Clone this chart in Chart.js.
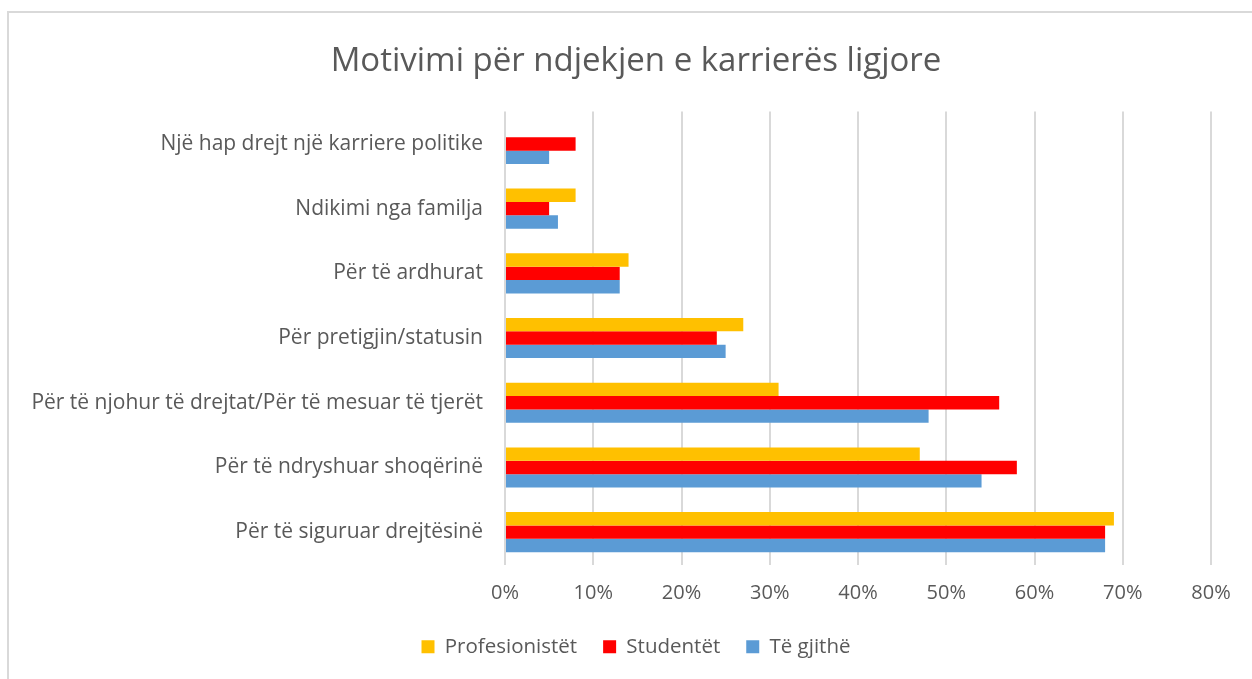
<!DOCTYPE html>
<html>
<head>
<meta charset="utf-8">
<script src="https://cdn.jsdelivr.net/npm/chart.js@4/dist/chart.umd.min.js"></script>
<style>
  html, body { margin: 0; padding: 0; background: #fff; }
  #wrap { position: relative; width: 1252px; height: 679px; }
  #frame {
    position: absolute; left: 7px; top: 11px; right: 0; bottom: 0;
    border-top: 2px solid #d9d9d9; border-left: 2px solid #d9d9d9;
    pointer-events: none;
  }
  canvas { position: absolute; left: 0; top: 0; }
</style>
</head>
<body>
<div id="wrap">
  <canvas id="chart" width="1252" height="679"></canvas>
  <div id="frame"></div>
</div>
<script>
const categories = [
  'Një hap drejt një karriere politike',
  'Ndikimi nga familja',
  'Për të ardhurat',
  'Për pretigjin/statusin',
  'Për të njohur të drejtat/Për të mesuar të tjerët',
  'Për të ndryshuar shoqërinë',
  'Për të siguruar drejtësinë',
];

const profesionistet = [0, 8, 14, 27, 31, 47, 69];
const studentet = [8, 5, 13, 24, 56, 58, 68];
const teGjithe = [5, 6, 13, 25, 48, 54, 68];

const xTicks = [0, 10, 20, 30, 40, 50, 60, 70, 80];

const textColor = '#595959';
const font = 'Open Sans';

// title and legend sit a bit right of the canvas centre in the original
const shiftBlocks = {
  id: 'shiftBlocks',
  afterLayout(chart) {
    const dx = 18;
    [chart.titleBlock, chart.legend].forEach((box) => {
      if (box) {
        box.left += dx;
        box.right += dx;
      }
    });
  },
};

const ctx = document.getElementById('chart').getContext('2d');
new Chart(ctx, {
  type: 'bar',
  data: {
    labels: categories,
    datasets: [
      { label: 'Profesionistët', data: profesionistet, backgroundColor: '#FFC000' },
      { label: 'Studentët', data: studentet, backgroundColor: '#FF0000' },
      { label: 'Të gjithë', data: teGjithe, backgroundColor: '#5B9BD5' },
    ],
  },
  options: {
    indexAxis: 'y',
    responsive: false,
    animation: false,
    categoryPercentage: 0.62,
    barPercentage: 1,
    layout: { padding: { left: 25, right: 41, top: 0, bottom: 12 } },
    plugins: {
      title: {
        display: true,
        text: 'Motivimi për ndjekjen e karrierës ligjore',
        color: textColor,
        font: { family: font, size: 33, weight: 'normal' },
        padding: { top: 42, bottom: 30 },
      },
      legend: {
        position: 'bottom',
        labels: {
          color: textColor,
          font: { family: font, size: 20.5 },
          boxWidth: 13,
          boxHeight: 13,
          padding: 26,
        },
      },
      tooltip: { enabled: false },
    },
    scales: {
      x: {
        min: 0,
        max: 80,
        afterBuildTicks: (scale) => {
          scale.ticks = xTicks.map((v) => ({ value: v }));
        },
        afterFit: (scale) => {
          scale.height -= 12;
        },
        grid: { color: '#d9d9d9', lineWidth: 2, drawTicks: false },
        border: { display: false },
        ticks: {
          color: textColor,
          font: { family: font, size: 20 },
          padding: 17,
          callback: (v) => `${v}%`,
        },
      },
      y: {
        grid: { display: false, drawTicks: false },
        border: { display: false },
        afterFit: (scale) => {
          scale.width = 480;
        },
        ticks: {
          color: textColor,
          font: { family: font, size: 21 },
          padding: 22,
        },
      },
    },
  },
  plugins: [shiftBlocks],
});
</script>
</body>
</html>
